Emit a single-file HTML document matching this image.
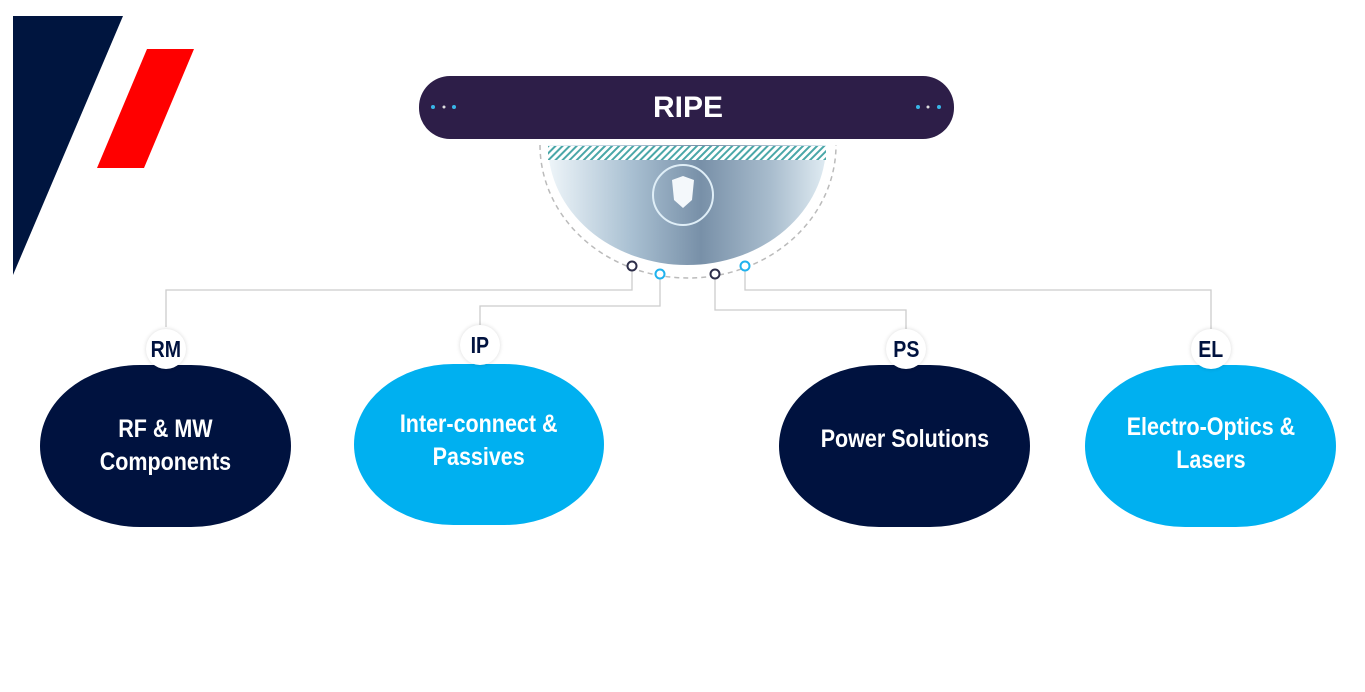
<!DOCTYPE html>
<html><head><meta charset="utf-8"><style>
body{margin:0;width:1365px;height:692px;background:#fff;overflow:hidden;position:relative;font-family:"Liberation Sans",sans-serif}
.node{position:absolute;border-radius:100px/81px;color:#fff;font-weight:bold;font-size:25px;line-height:33px;text-align:center;display:flex;align-items:center;justify-content:center}
.node span{display:inline-block;transform:scaleX(0.86);white-space:nowrap}
.badge{position:absolute;width:40px;height:40px;border-radius:50%;background:#fff;box-shadow:0 0 4px rgba(0,0,0,.15);color:#00123f;font-weight:bold;font-size:23px;display:flex;align-items:center;justify-content:center}
.badge span{display:inline-block;transform:scaleX(0.85)}
</style></head><body>
<svg width="1365" height="692" style="position:absolute;left:0;top:0">
<defs>
<pattern id="h" width="5" height="5" patternUnits="userSpaceOnUse" patternTransform="rotate(45)"><rect width="2" height="5" fill="#4aa7a8"/></pattern>
<clipPath id="c"><path d="M548 145 L826 145 A139 120 0 0 1 548 145Z"/></clipPath>
<linearGradient id="g" x1="0" y1="0" x2="1" y2="0"><stop offset="0" stop-color="#eef5f9"/><stop offset=".3" stop-color="#a9c0d2"/><stop offset=".55" stop-color="#7890a8"/><stop offset=".8" stop-color="#a8bccd"/><stop offset="1" stop-color="#dfebf2"/></linearGradient>
</defs>
<polygon points="13,16 123,16 13,275" fill="#00153f"/>
<polygon points="147,49 194,49 144,168 97,168" fill="#ff0000"/>
<path d="M540 145 A148 133 0 0 0 836 145" fill="none" stroke="#bbb" stroke-width="1.5" stroke-dasharray="5,4"/>
<g clip-path="url(#c)"><rect x="548" y="145" width="278" height="130" fill="url(#g)"/>
<circle cx="683" cy="195" r="30" fill="none" stroke="#dfeef7" stroke-width="2"/>
<path d="M672 180 L683 176 L694 180 L692 200 L683 208 L674 200Z" fill="#f4f8fb"/></g>
<rect x="548" y="146" width="278" height="14" fill="#fff"/>
<rect x="548" y="146" width="278" height="14" fill="url(#h)"/>
<g fill="none" stroke="#ccc" stroke-width="1.3">
<polyline points="166,327 166,290 632,290 632,270"/>
<polyline points="480,325 480,306 660,306 660,279"/>
<polyline points="906,329 906,310 715,310 715,279"/>
<polyline points="1211,329 1211,290 745,290 745,270"/>
</g>
<g fill="#fff" stroke-width="2">
<circle cx="632" cy="266" r="4.5" stroke="#2d2e4a"/>
<circle cx="660" cy="274" r="4.5" stroke="#1fb2ee"/>
<circle cx="715" cy="274" r="4.5" stroke="#2d2e4a"/>
<circle cx="745" cy="266" r="4.5" stroke="#1fb2ee"/>
</g>
<rect x="419" y="76" width="535" height="63" rx="31" fill="#2d1e48"/>
<text x="688" y="117" font-family="Liberation Sans,sans-serif" font-weight="bold" font-size="30" fill="#fff" text-anchor="middle">RIPE</text>
<g fill="#38b6e8"><circle cx="433" cy="107" r="2"/><circle cx="444" cy="107" r="1.5" fill="#ddd"/><circle cx="454" cy="107" r="2"/>
<circle cx="918" cy="107" r="2"/><circle cx="928" cy="107" r="1.5" fill="#ddd"/><circle cx="939" cy="107" r="2"/></g>
</svg>
<div class="node" style="left:40px;top:365px;width:251px;height:162px;background:#00123f"><span>RF &amp; MW<br>Components</span></div>
<div class="node" style="left:354px;top:364px;width:250px;height:161px;background:#00b0f0;padding-bottom:8px;box-sizing:border-box"><span>Inter-connect &amp;<br>Passives</span></div>
<div class="node" style="left:779px;top:365px;width:251px;height:162px;background:#00123f;padding-bottom:14px;box-sizing:border-box"><span>Power Solutions</span></div>
<div class="node" style="left:1085px;top:365px;width:251px;height:162px;background:#00b0f0;padding-bottom:4px;box-sizing:border-box"><span>Electro-Optics &amp;<br>Lasers</span></div>
<div class="badge" style="left:146px;top:329px"><span>RM</span></div>
<div class="badge" style="left:460px;top:325px"><span>IP</span></div>
<div class="badge" style="left:886px;top:329px"><span>PS</span></div>
<div class="badge" style="left:1191px;top:329px"><span>EL</span></div>
</body></html>
